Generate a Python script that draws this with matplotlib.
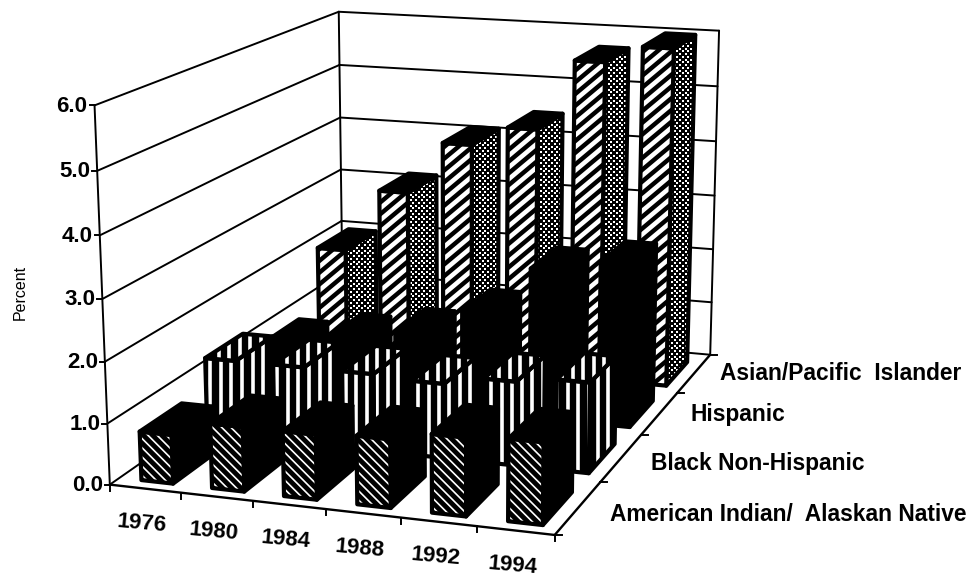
import numpy as np
import matplotlib
matplotlib.use('Agg')
import matplotlib.pyplot as plt
from matplotlib.patches import Polygon
from matplotlib.collections import LineCollection

years = ['1976', '1980', '1984', '1988', '1992', '1994']
groups = ['American Indian/  Alaskan Native', 'Black Non-Hispanic', 'Hispanic', 'Asian/Pacific  Islander']
percent_ticks = [0.0, 1.0, 2.0, 3.0, 4.0, 5.0, 6.0]

american_indian = [0.8, 1.05, 1.05, 1.1, 1.25, 1.3]
black = [1.3, 1.3, 1.3, 1.25, 1.4, 1.5]
hispanic = [0.9, 1.1, 1.3, 1.75, 2.6, 2.8]
asian = [2.0, 3.15, 4.1, 4.45, 5.7, 6.0]

plt.rcParams['font.family'] = ['Liberation Sans', 'DejaVu Sans']

fig = plt.figure(figsize=(9.74, 5.77), dpi=100)
ax = fig.add_axes([0, 0, 1, 1])
ax.set_xlim(0, 974)
ax.set_ylim(577, 0)
ax.axis('off')

# camera matrix solved from the box corners (year slot, group slot, percent) -> pixels
corners = [((0, 0, 0), (111, 481)), ((6, 0, 0), (555, 538)), ((6, 4, 0), (711, 351)),
           ((0, 4, 0), (341, 326)), ((0, 0, 6), (93, 106)), ((0, 4, 6), (341, 10)),
           ((6, 4, 6), (718, 32))]
rows = []
for (x, s, z), (u, v) in corners:
    rows.append([x, s, z, 1, 0, 0, 0, 0, -u*x, -u*s, -u*z, -u])
    rows.append([0, 0, 0, 0, x, s, z, 1, -v*x, -v*s, -v*z, -v])
cam = np.linalg.svd(np.array(rows, dtype=float))[2][-1].reshape(3, 4)


def project(x, s, z):
    p = cam @ np.array([x, s, z, 1.0])
    return p[0]/p[2], p[1]/p[2]


def line3d(a, b, lw=1.4):
    pa, pb = project(*a), project(*b)
    ax.plot([pa[0], pb[0]], [pa[1], pb[1]], color='black', lw=lw, solid_capstyle='round', zorder=1)


# floor, walls and gridlines
for z in percent_ticks:
    line3d((0, 0, z), (0, 4, z))
    line3d((0, 4, z), (6, 4, z))
    u, v = project(0, 0, z)
    ax.plot([u-5, u], [v, v], color='black', lw=1.4, zorder=1)
line3d((0, 0, 0), (0, 0, 6))
line3d((0, 4, 0), (0, 4, 6))
line3d((6, 4, 0), (6, 4, 6))
line3d((0, 0, 0), (6, 0, 0), lw=1.7)
line3d((6, 0, 0), (6, 4, 0), lw=1.7)
for i in range(7):
    u, v = project(i, 0, 0)
    ax.plot([u, u], [v, v+6], color='black', lw=1.4, zorder=1)
for j in range(5):
    u, v = project(6, j, 0)
    ax.plot([u, u+7], [v, v], color='black', lw=1.4, zorder=1)

order = [0]


def stripes(patch, bounds, angle, spacing, lw, color):
    # parallel lines over the face, clipped to its outline
    x0, x1, y0, y1 = bounds
    cx, cy = (x0+x1)/2, (y0+y1)/2
    r = np.hypot(x1-x0, y1-y0)
    d = np.array([np.cos(np.radians(angle)), -np.sin(np.radians(angle))])
    n = np.array([-d[1], d[0]])
    segs = []
    for t in np.arange(-r, r, spacing):
        c = np.array([cx, cy]) + n*t
        segs.append([c-d*r, c+d*r])
    lc = LineCollection(segs, colors=color, linewidths=lw, zorder=patch.get_zorder()+0.1)
    ax.add_collection(lc)
    lc.set_clip_path(patch)


def dots(patch, bounds, spacing, size):
    x0, x1, y0, y1 = bounds
    gx, gy = np.meshgrid(np.arange(x0, x1, spacing), np.arange(y0, y1, spacing/2))
    gx = gx + (np.arange(gx.shape[0]) % 2)[:, None]*spacing/2
    sc = ax.scatter(gx.ravel(), gy.ravel(), s=size, c='white', marker='s', linewidths=0,
                    zorder=patch.get_zorder()+0.1)
    sc.set_clip_path(patch)


def face(pts, style):
    order[0] += 1
    zo = 2 + order[0]
    pts = np.array([project(*p) for p in pts])
    base = 'white' if style == 'slash' else 'black'
    patch = Polygon(pts, closed=True, facecolor=base, edgecolor='none', zorder=zo)
    ax.add_patch(patch)
    b = (pts[:, 0].min(), pts[:, 0].max(), pts[:, 1].min(), pts[:, 1].max())
    if style == 'slash':
        stripes(patch, b, 40, 9.0, 3.2, 'black')
    elif style == 'back':
        stripes(patch, b, -45, 6.5, 1.2, 'white')
    elif style == 'vert':
        stripes(patch, b, 90, 10.5, 2.6, 'white')
    elif style == 'dots':
        dots(patch, b, 5.5, 2.4)
    ax.add_patch(Polygon(pts, closed=True, facecolor='none', edgecolor='black', lw=3.0,
                         joinstyle='round', zorder=zo+0.2))


def bar(x, s, h, front, side, top):
    w, d = 0.45, 0.62
    x0, x1, s0, s1 = x+0.31, x+0.31+w, s+0.14, s+0.14+d
    face([(x1, s0, 0), (x1, s1, 0), (x1, s1, h), (x1, s0, h)], side)
    face([(x0, s0, 0), (x1, s0, 0), (x1, s0, h), (x0, s0, h)], front)
    face([(x0, s0, h), (x1, s0, h), (x1, s1, h), (x0, s1, h)], top)


# back row first, so nearer bars cover it
series = [(asian, 3, 'slash', 'dots', 'solid'),
          (hispanic, 2, 'solid', 'solid', 'solid'),
          (black, 1, 'vert', 'vert', 'vert'),
          (american_indian, 0, 'back', 'solid', 'solid')]
for values, s, front, side, top in series:
    for i, v in enumerate(values):
        bar(i, s, v, front, side, top)

for z in percent_ticks:
    u, v = project(0, 0, z)
    ax.text(u-7, v+1, f'{z:.1f}', ha='right', va='center', fontsize=16, weight='bold', zorder=50)
for i, y in enumerate(years):
    u, v = project(i+0.5, 0, 0)
    ax.text(u-3, v+35, y, ha='center', va='center', fontsize=16, weight='bold', rotation=-5, zorder=50)
label_left = [610, 651, 690, 720]
label_dy = [7, 6, 1, 0]
for j, g in enumerate(groups):
    u, v = project(6, j+0.5, 0)
    ax.text(label_left[j], v+label_dy[j], g, ha='left', va='center', fontsize=16.4, weight='bold', zorder=50)
ax.text(20, 292, 'Percent', rotation=90, ha='center', va='center', fontsize=11.5, zorder=50)

fig.savefig('out.png', dpi=100)
